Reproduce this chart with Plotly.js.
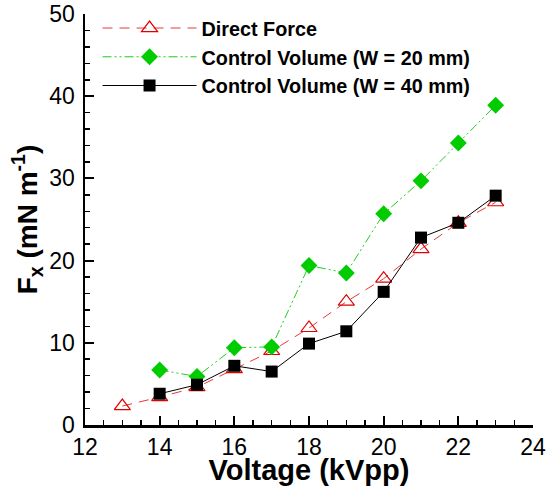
<!DOCTYPE html>
<html>
<head>
<meta charset="utf-8">
<script src="https://cdn.plot.ly/plotly-3.0.1.min.js"></script>
<style>
  html, body { margin: 0; padding: 0; background: #fff; }
  #chart { width: 550px; height: 486px; }
</style>
</head>
<body>
<div id="chart"></div>
<script>
// Thrust force per unit length vs. applied voltage
const voltage = [13, 14, 15, 16, 17, 18, 19, 20, 21, 22, 23];
const directForce = [2.3, 3.4, 4.6, 6.8, 9.0, 11.8, 15.0, 17.8, 21.4, 24.6, 27.1];

const voltageCV = [14, 15, 16, 17, 18, 19, 20, 21, 22, 23];
const cvW20 = [6.7, 5.9, 9.4, 9.5, 19.4, 18.5, 25.7, 29.7, 34.3, 38.9];
const cvW40 = [3.8, 4.9, 7.2, 6.5, 9.9, 11.4, 16.2, 22.8, 24.6, 27.9];

const seriesNames = ['Direct Force', 'Control Volume (W = 20 mm)', 'Control Volume (W = 40 mm)'];

const FONT = 'Liberation Sans, Arial, sans-serif';

const traces = [
  {
    x: voltage, y: directForce, name: seriesNames[0],
    mode: 'lines+markers', type: 'scatter',
    line: { color: '#e8383a', width: 1, dash: '10px,7px' },
    marker: { symbol: 'triangle-up-open', size: 14, color: '#e00000', line: { width: 1.2, color: '#e00000' } }
  },
  {
    x: voltageCV, y: cvW20, name: seriesNames[1],
    mode: 'lines+markers', type: 'scatter',
    line: { color: '#22cc22', width: 1, dash: '9px,3px,2px,3px,2px,3px' },
    marker: { symbol: 'diamond', size: 13, color: '#00cc00' }
  },
  {
    x: voltageCV, y: cvW40, name: seriesNames[2],
    mode: 'lines+markers', type: 'scatter',
    line: { color: '#000000', width: 1 },
    marker: { symbol: 'square', size: 12, color: '#000000' }
  }
];

const layout = {
  width: 550, height: 486,
  margin: { l: 85, r: 17, t: 14, b: 61, autoexpand: false },
  paper_bgcolor: '#fff', plot_bgcolor: '#fff',
  font: { family: FONT, color: '#000' },
  showlegend: true,
  legend: {
    x: 0.028, y: 1.013, xanchor: 'left', yanchor: 'top',
    bgcolor: 'rgba(0,0,0,0)',
    font: { family: FONT, size: 19.8, weight: 'bold', color: '#000' },
    itemwidth: 94, tracegroupgap: 0
  },
  xaxis: {
    range: [12, 24], dtick: 2, tick0: 12,
    showgrid: false, zeroline: false,
    showline: true, linecolor: '#000', linewidth: 2.5,
    ticks: 'inside', ticklen: 9, tickwidth: 2, tickcolor: '#000',
    minor: { dtick: 0.5, ticks: 'inside', ticklen: 5, tickwidth: 1.5, tickcolor: '#000' },
    tickfont: { family: FONT, size: 23, color: '#000' },
    title: { text: 'Voltage (kVpp)', font: { family: FONT, size: 29, weight: 'bold', color: '#000' }, standoff: 9 }
  },
  yaxis: {
    range: [0, 50], dtick: 10, tick0: 0,
    showgrid: false, zeroline: false,
    showline: true, linecolor: '#000', linewidth: 2.5,
    ticks: 'inside', ticklen: 9, tickwidth: 2, tickcolor: '#000',
    ticklabelstandoff: 3,
    minor: { dtick: 2, ticks: 'inside', ticklen: 5, tickwidth: 1.5, tickcolor: '#000' },
    tickfont: { family: FONT, size: 23, color: '#000' },
    title: { text: 'F<sub>x</sub> (mN m<sup>-1</sup>)', font: { family: FONT, size: 28, weight: 'bold', color: '#000' }, standoff: 4 }
  }
};

Plotly.newPlot('chart', traces, layout, { displayModeBar: false, staticPlot: true });
</script>
</body>
</html>
